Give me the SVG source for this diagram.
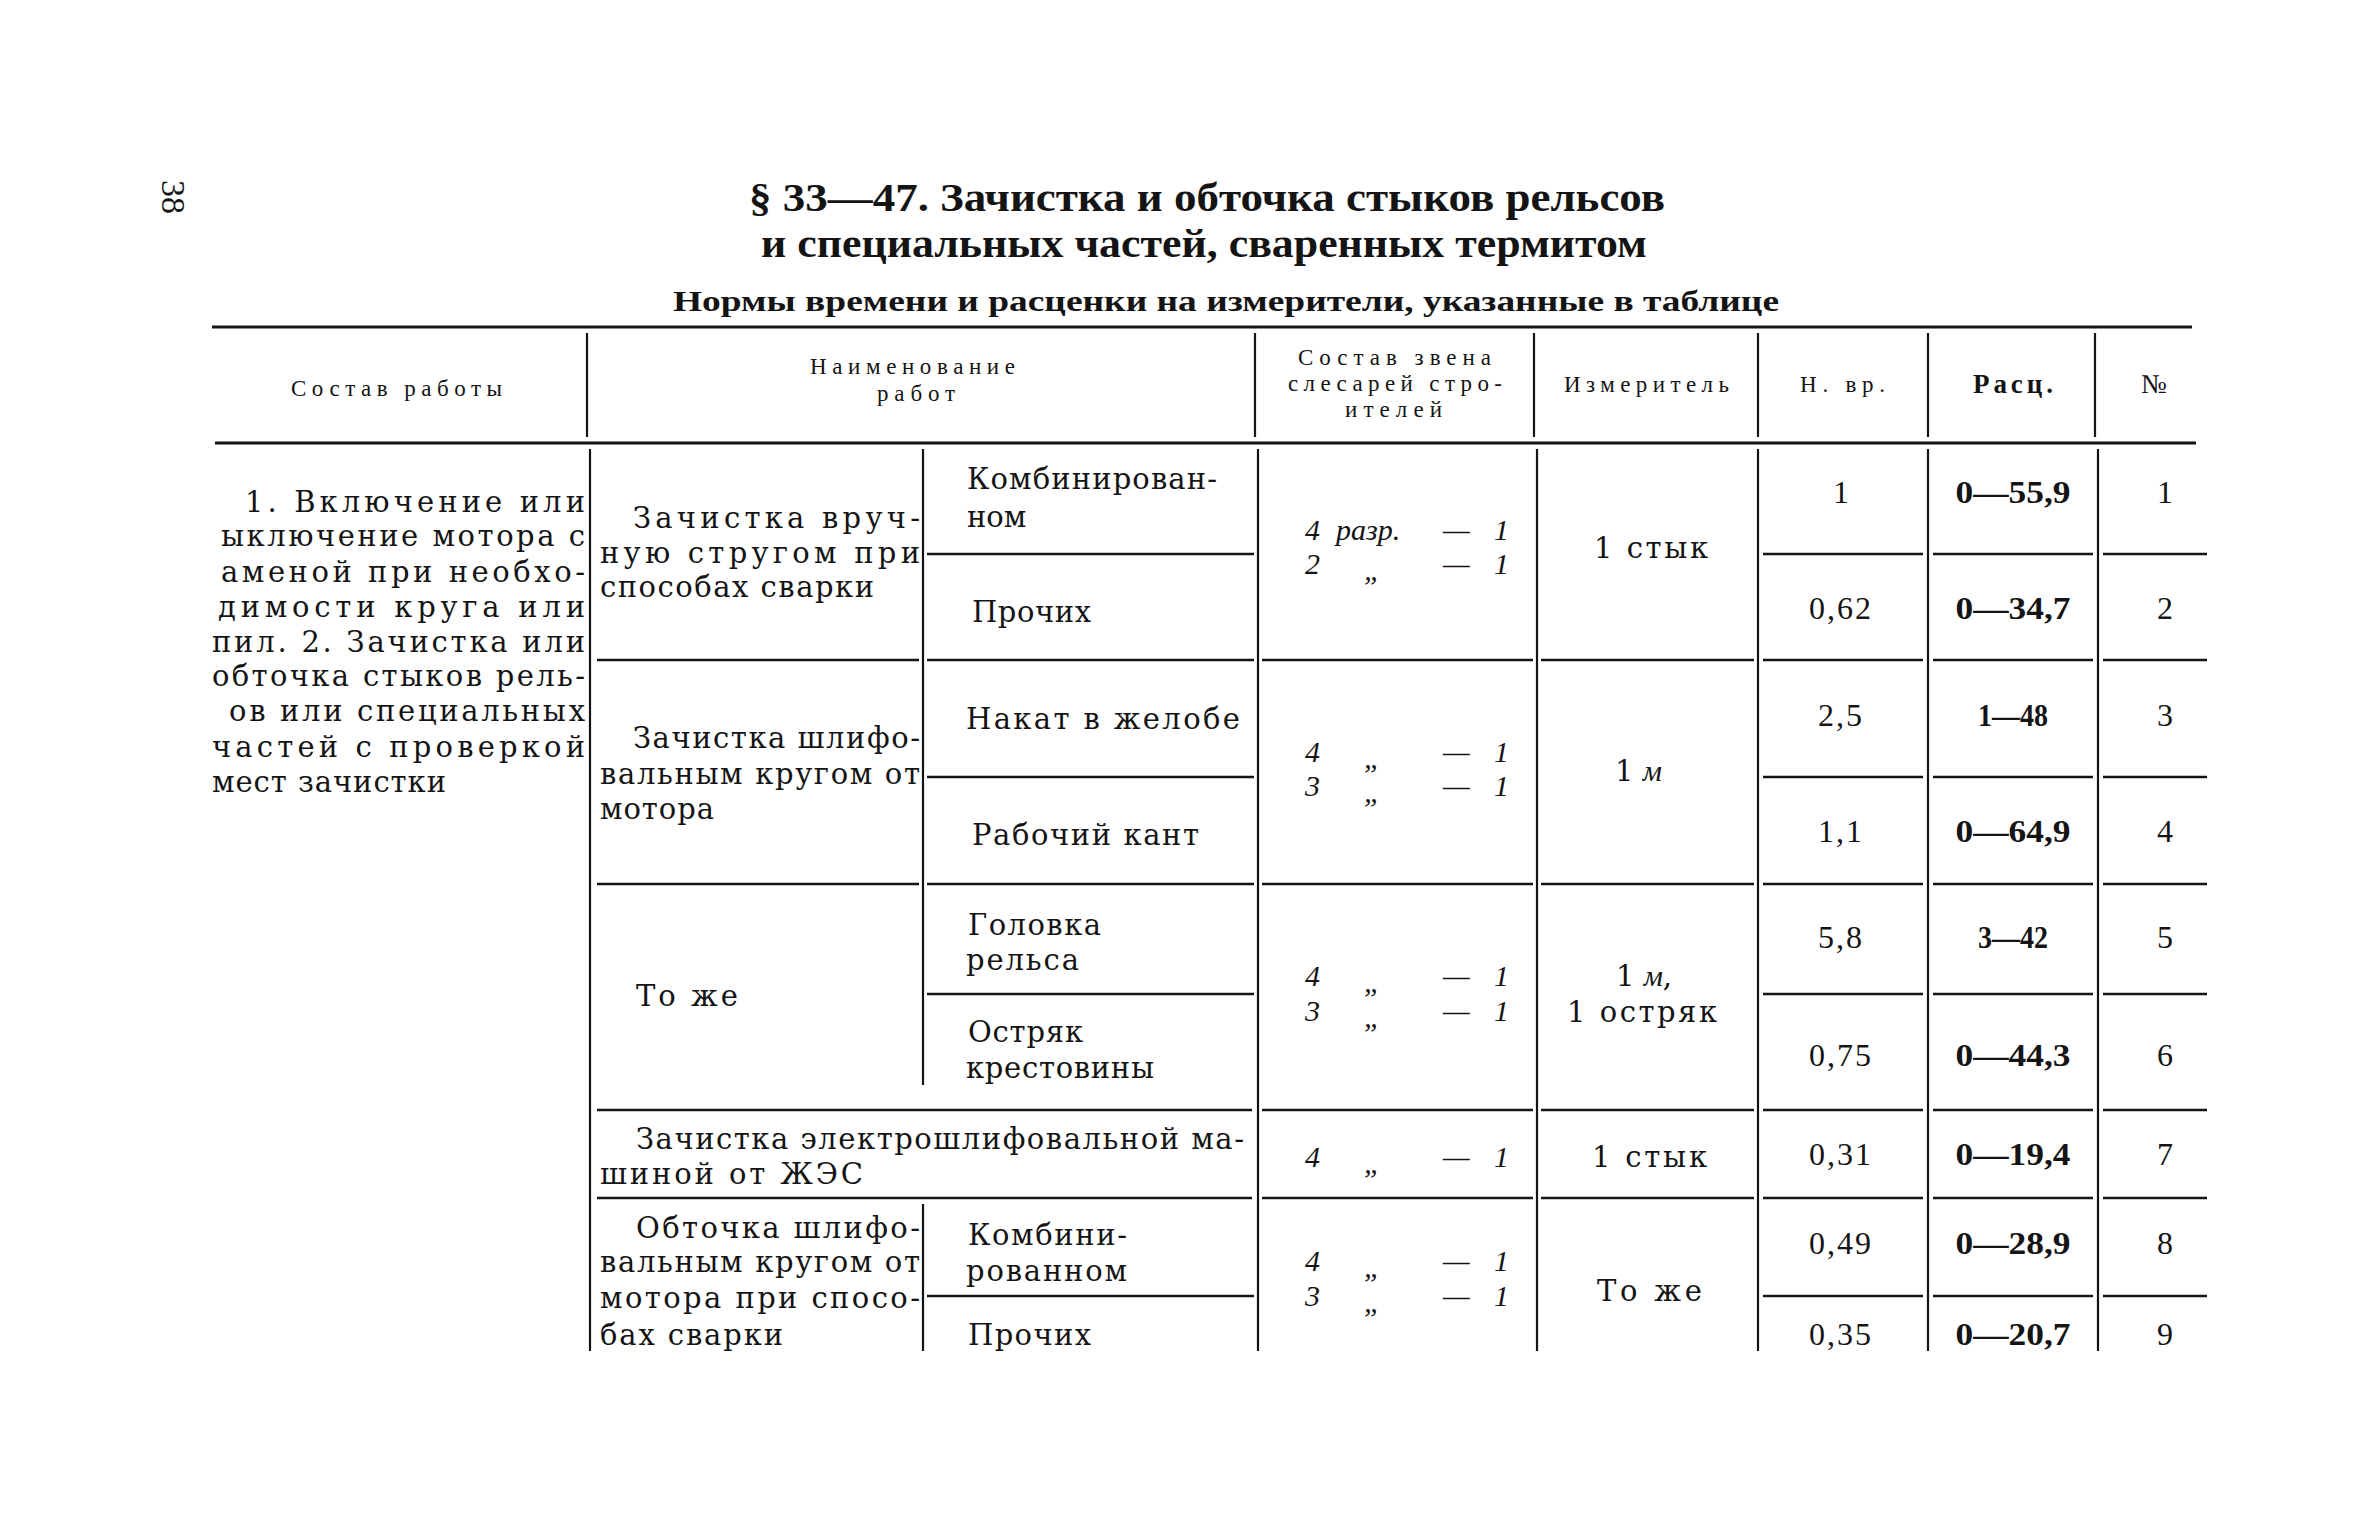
<svg xmlns="http://www.w3.org/2000/svg" width="2362" height="1534" viewBox="0 0 2362 1534">
<style>
text { font-family: "Liberation Serif", "DejaVu Serif", serif; fill: #141414; }
.t { font-family: "DejaVu Serif", "Liberation Serif", serif; font-size: 29px; }
.h { font-size: 23px; }
.n { font-size: 32px; text-anchor: middle; }
.b { font-weight: bold; }
.i { font-family: "Liberation Serif", "DejaVu Serif", serif; font-style: italic; font-size: 30px; }
.ttl { font-size: 40px; font-weight: bold; }
.sub { font-size: 30px; font-weight: bold; }
.ln { stroke: #141414; stroke-width: 2.6; fill: none; }
.thick { stroke: #141414; stroke-width: 3.2; fill: none; }
.v { stroke: #141414; stroke-width: 2.2; fill: none; }
</style>
<rect width="2362" height="1534" fill="#ffffff"/>

<g id="page-number">
<text transform="translate(162,180) rotate(90)" font-size="34">38</text>
</g>

<g id="title">
<text class="ttl" x="749" y="211" textLength="916" lengthAdjust="spacingAndGlyphs">§ 33—47. Зачистка и обточка стыков рельсов</text>
<text class="ttl" x="761" y="257" textLength="886" lengthAdjust="spacingAndGlyphs">и специальных частей, сваренных термитом</text>
<text class="sub" x="673" y="311" textLength="1106" lengthAdjust="spacingAndGlyphs">Нормы времени и расценки на измерители,  указанные в таблице</text>
</g>

<g id="connectors">
<line class="thick" x1="212" y1="327" x2="2192" y2="327"/>
<line class="thick" x1="215" y1="443" x2="2196" y2="443"/>
<line class="v" x1="587" y1="333" x2="587" y2="437"/>
<line class="v" x1="1255" y1="333" x2="1255" y2="437"/>
<line class="v" x1="1534" y1="333" x2="1534" y2="437"/>
<line class="v" x1="1758" y1="333" x2="1758" y2="437"/>
<line class="v" x1="1928" y1="333" x2="1928" y2="437"/>
<line class="v" x1="2095" y1="333" x2="2095" y2="437"/>
<line class="v" x1="590" y1="449" x2="590" y2="1351"/>
<line class="v" x1="923" y1="449" x2="923" y2="1085"/>
<line class="v" x1="923" y1="1204" x2="923" y2="1351"/>
<line class="v" x1="1258" y1="449" x2="1258" y2="1351"/>
<line class="v" x1="1537" y1="449" x2="1537" y2="1351"/>
<line class="v" x1="1758" y1="449" x2="1758" y2="1351"/>
<line class="v" x1="1928" y1="449" x2="1928" y2="1351"/>
<line class="v" x1="2098" y1="449" x2="2098" y2="1351"/>
<path class="ln" d="M927 554H1254 M1763 554H1923 M1933 554H2093 M2103 554H2207"/>
<path class="ln" d="M597 660H919 M927 660H1254 M1262 660H1533 M1541 660H1754 M1763 660H1923 M1933 660H2093 M2103 660H2207"/>
<path class="ln" d="M927 777H1254 M1763 777H1923 M1933 777H2093 M2103 777H2207"/>
<path class="ln" d="M597 884H919 M927 884H1254 M1262 884H1533 M1541 884H1754 M1763 884H1923 M1933 884H2093 M2103 884H2207"/>
<path class="ln" d="M927 994H1254 M1763 994H1923 M1933 994H2093 M2103 994H2207"/>
<path class="ln" d="M597 1110H1252 M1262 1110H1533 M1541 1110H1754 M1763 1110H1923 M1933 1110H2093 M2103 1110H2207"/>
<path class="ln" d="M597 1198H1252 M1262 1198H1533 M1541 1198H1754 M1763 1198H1923 M1933 1198H2093 M2103 1198H2207"/>
<path class="ln" d="M927 1296H1254 M1763 1296H1923 M1933 1296H2093 M2103 1296H2207"/>
</g>

<g id="header">
<text class="h" x="291" y="396" textLength="211" lengthAdjust="spacing">Состав работы</text>
<text class="h" x="810" y="374" textLength="205" lengthAdjust="spacing">Наименование</text>
<text class="h" x="877" y="401" textLength="78" lengthAdjust="spacing">работ</text>
<text class="h" x="1298" y="365" textLength="193" lengthAdjust="spacing">Состав звена</text>
<text class="h" x="1288" y="391" textLength="214" lengthAdjust="spacing">слесарей стро-</text>
<text class="h" x="1345" y="417" textLength="97" lengthAdjust="spacing">ителей</text>
<text class="h" x="1564" y="392" textLength="165" lengthAdjust="spacing">Измеритель</text>
<text class="h" x="1800" y="392" textLength="85" lengthAdjust="spacing">Н. вр.</text>
<text class="b" x="1973" y="393" textLength="80" lengthAdjust="spacing" font-size="27">Расц.</text>
<text x="2141" y="393" font-size="27">№</text>
</g>

<g id="col-work-composition">
<text class="t" x="245" y="512" textLength="340" lengthAdjust="spacing">1. Включение или</text>
<text class="t" x="221" y="546" textLength="364" lengthAdjust="spacing">ыключение мотора с</text>
<text class="t" x="221" y="582" textLength="364" lengthAdjust="spacing">аменой при необхо-</text>
<text class="t" x="218" y="617" textLength="367" lengthAdjust="spacing">димости круга или</text>
<text class="t" x="212" y="652" textLength="373" lengthAdjust="spacing">пил. 2. Зачистка или</text>
<text class="t" x="212" y="686" textLength="373" lengthAdjust="spacing">обточка стыков рель-</text>
<text class="t" x="229" y="721" textLength="356" lengthAdjust="spacing">ов или специальных</text>
<text class="t" x="212" y="757" textLength="373" lengthAdjust="spacing">частей с проверкой</text>
<text class="t" x="212" y="792" textLength="234" lengthAdjust="spacing">мест зачистки</text>
</g>

<g id="group-1">
<text class="t" x="633" y="528" textLength="287" lengthAdjust="spacing">Зачистка вруч-</text>
<text class="t" x="600" y="563" textLength="320" lengthAdjust="spacing">ную стругом при</text>
<text class="t" x="600" y="597" textLength="274" lengthAdjust="spacing">способах сварки</text>
<text class="i" x="1305" y="540"><tspan>4</tspan><tspan x="1336">разр.</tspan><tspan x="1443">—</tspan><tspan x="1494">1</tspan></text>
<text class="i" x="1305" y="574"><tspan>2</tspan><tspan x="1364" y="580">„</tspan><tspan x="1443" y="574">—</tspan><tspan x="1494">1</tspan></text>
<text class="t" x="1594" y="558" textLength="114" lengthAdjust="spacing">1 стык</text>
</g>
<g id="row-1">
<text class="t" x="967" y="489" textLength="250" lengthAdjust="spacing">Комбинирован-</text>
<text class="t" x="967" y="527">ном</text>
<text class="n" x="1841" y="503">1</text>
<text class="n b" x="2013" y="503" textLength="115" lengthAdjust="spacingAndGlyphs">0—55,9</text>
<text class="n" x="2165" y="503">1</text>
</g>
<g id="row-2">
<text class="t" x="972" y="622" textLength="119" lengthAdjust="spacing">Прочих</text>
<text class="n" x="1841" y="619" letter-spacing="2">0,62</text>
<text class="n b" x="2013" y="619" textLength="115" lengthAdjust="spacingAndGlyphs">0—34,7</text>
<text class="n" x="2165" y="619">2</text>
</g>

<g id="group-2">
<text class="t" x="633" y="748" textLength="287" lengthAdjust="spacing">Зачистка шлифо-</text>
<text class="t" x="600" y="784" textLength="320" lengthAdjust="spacing">вальным кругом от</text>
<text class="t" x="600" y="819" textLength="114" lengthAdjust="spacing">мотора</text>
<text class="i" x="1305" y="762"><tspan>4</tspan><tspan x="1364" y="768">„</tspan><tspan x="1443" y="762">—</tspan><tspan x="1494">1</tspan></text>
<text class="i" x="1305" y="796"><tspan>3</tspan><tspan x="1364" y="802">„</tspan><tspan x="1443" y="796">—</tspan><tspan x="1494">1</tspan></text>
<text class="t" x="1615" y="781">1 <tspan class="i">м</tspan></text>
</g>
<g id="row-3">
<text class="t" x="966" y="729" textLength="274" lengthAdjust="spacing">Накат в желобе</text>
<text class="n" x="1841" y="726" letter-spacing="2">2,5</text>
<text class="n b" x="2013" y="726" textLength="70" lengthAdjust="spacingAndGlyphs">1—48</text>
<text class="n" x="2165" y="726">3</text>
</g>
<g id="row-4">
<text class="t" x="972" y="845" textLength="227" lengthAdjust="spacing">Рабочий кант</text>
<text class="n" x="1841" y="842" letter-spacing="2">1,1</text>
<text class="n b" x="2013" y="842" textLength="115" lengthAdjust="spacingAndGlyphs">0—64,9</text>
<text class="n" x="2165" y="842">4</text>
</g>

<g id="group-3">
<text class="t" x="636" y="1006" textLength="102" lengthAdjust="spacing">То же</text>
<text class="i" x="1305" y="986"><tspan>4</tspan><tspan x="1364" y="992">„</tspan><tspan x="1443" y="986">—</tspan><tspan x="1494">1</tspan></text>
<text class="i" x="1305" y="1021"><tspan>3</tspan><tspan x="1364" y="1027">„</tspan><tspan x="1443" y="1021">—</tspan><tspan x="1494">1</tspan></text>
<text class="t" x="1616" y="986">1 <tspan class="i">м</tspan>,</text>
<text class="t" x="1567" y="1022" textLength="150" lengthAdjust="spacing">1 остряк</text>
</g>
<g id="row-5">
<text class="t" x="968" y="935" textLength="133" lengthAdjust="spacing">Головка</text>
<text class="t" x="966" y="970" textLength="113" lengthAdjust="spacing">рельса</text>
<text class="n" x="1841" y="948" letter-spacing="2">5,8</text>
<text class="n b" x="2013" y="948" textLength="70" lengthAdjust="spacingAndGlyphs">3—42</text>
<text class="n" x="2165" y="948">5</text>
</g>
<g id="row-6">
<text class="t" x="968" y="1042" textLength="115" lengthAdjust="spacing">Остряк</text>
<text class="t" x="966" y="1078" textLength="188" lengthAdjust="spacing">крестовины</text>
<text class="n" x="1841" y="1066" letter-spacing="2">0,75</text>
<text class="n b" x="2013" y="1066" textLength="115" lengthAdjust="spacingAndGlyphs">0—44,3</text>
<text class="n" x="2165" y="1066">6</text>
</g>

<g id="row-7">
<text class="t" x="636" y="1149" textLength="608" lengthAdjust="spacing">Зачистка электрошлифовальной ма-</text>
<text class="t" x="600" y="1184" textLength="263" lengthAdjust="spacing">шиной от ЖЭС</text>
<text class="i" x="1305" y="1167"><tspan>4</tspan><tspan x="1364" y="1173">„</tspan><tspan x="1443" y="1167">—</tspan><tspan x="1494">1</tspan></text>
<text class="t" x="1592" y="1167" textLength="115" lengthAdjust="spacing">1 стык</text>
<text class="n" x="1841" y="1165" letter-spacing="2">0,31</text>
<text class="n b" x="2013" y="1165" textLength="115" lengthAdjust="spacingAndGlyphs">0—19,4</text>
<text class="n" x="2165" y="1165">7</text>
</g>

<g id="group-4">
<text class="t" x="636" y="1238" textLength="284" lengthAdjust="spacing">Обточка шлифо-</text>
<text class="t" x="600" y="1272" textLength="320" lengthAdjust="spacing">вальным кругом от</text>
<text class="t" x="600" y="1308" textLength="320" lengthAdjust="spacing">мотора при спосо-</text>
<text class="t" x="600" y="1345" textLength="183" lengthAdjust="spacing">бах сварки</text>
<text class="i" x="1305" y="1271"><tspan>4</tspan><tspan x="1364" y="1277">„</tspan><tspan x="1443" y="1271">—</tspan><tspan x="1494">1</tspan></text>
<text class="i" x="1305" y="1306"><tspan>3</tspan><tspan x="1364" y="1312">„</tspan><tspan x="1443" y="1306">—</tspan><tspan x="1494">1</tspan></text>
<text class="t" x="1597" y="1301" textLength="105" lengthAdjust="spacing">То же</text>
</g>
<g id="row-8">
<text class="t" x="968" y="1245" textLength="159" lengthAdjust="spacing">Комбини-</text>
<text class="t" x="966" y="1281" textLength="161" lengthAdjust="spacing">рованном</text>
<text class="n" x="1841" y="1254" letter-spacing="2">0,49</text>
<text class="n b" x="2013" y="1254" textLength="115" lengthAdjust="spacingAndGlyphs">0—28,9</text>
<text class="n" x="2165" y="1254">8</text>
</g>
<g id="row-9">
<text class="t" x="968" y="1345" textLength="123" lengthAdjust="spacing">Прочих</text>
<text class="n" x="1841" y="1345" letter-spacing="2">0,35</text>
<text class="n b" x="2013" y="1345" textLength="115" lengthAdjust="spacingAndGlyphs">0—20,7</text>
<text class="n" x="2165" y="1345">9</text>
</g>
</svg>
